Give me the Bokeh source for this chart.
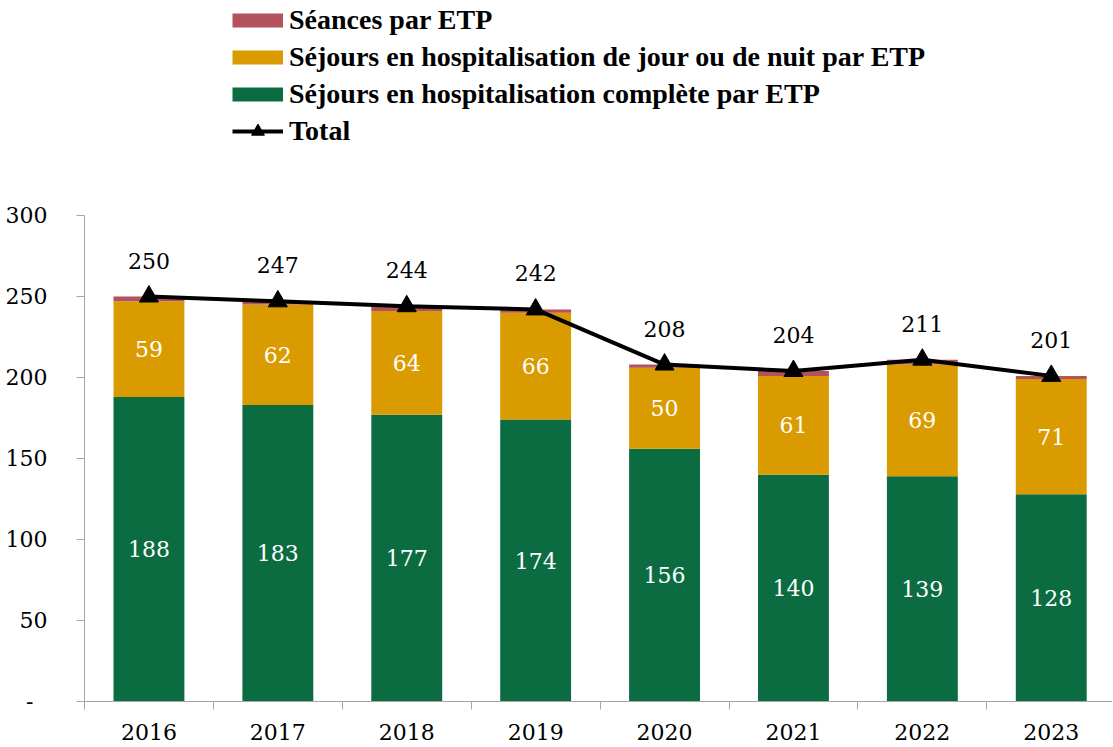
from bokeh.plotting import figure
from bokeh.models import ColumnDataSource, FixedTicker, Legend, LegendItem, Range1d
from bokeh.core.properties import value
from bokeh.embed import file_html
from bokeh.resources import INLINE

years = ["2016", "2017", "2018", "2019", "2020", "2021", "2022", "2023"]
complete = [188, 183, 177, 174, 156, 140, 139, 128]
jour = [59, 62, 64, 66, 50, 61, 69, 71]
seances = [3, 2, 3, 2, 2, 3, 3, 2]
totals = [250, 247, 244, 242, 208, 204, 211, 201]

label_complete = "Séjours en hospitalisation complète par ETP"
label_jour = "Séjours en hospitalisation de jour ou de nuit par ETP"
label_seances = "Séances par ETP"
label_total = "Total"

GREEN = "#0B6C42"
GOLD = "#D99B00"
RED = "#B3525C"
AXIS = "#A6A6A6"
NUM_FONT = "DejaVu Serif"
LEG_FONT = "Liberation Serif"

W, H = 1112, 746
LEFT = 84
FRAME_H = 701
BOTTOM = H - FRAME_H
PX_PER_UNIT = (FRAME_H - 215) / 300.0
CAT_PX = 128.9

xs = [i + 0.5 for i in range(len(years))]
src = ColumnDataSource(dict(
    x=xs,
    complete=complete,
    jour=jour,
    seances=seances,
    totals=totals,
    y_c=[c / 2 for c in complete],
    y_j=[c + j / 2 for c, j in zip(complete, jour)],
    t_c=[str(v) for v in complete],
    t_j=[str(v) for v in jour],
    t_t=[str(v) for v in totals],
))

p = figure(
    width=W, height=H,
    min_border_left=LEFT, min_border_right=0, min_border_top=0, min_border_bottom=BOTTOM,
    x_range=Range1d(0, (W - LEFT) / CAT_PX), y_range=Range1d(0, FRAME_H / PX_PER_UNIT),
    output_backend="svg", toolbar_location=None,
)
p.outline_line_color = None
p.xgrid.grid_line_color = None
p.ygrid.grid_line_color = None
p.background_fill_color = "white"

p.vbar_stack(["complete", "jour", "seances"], x="x", width=0.55,
             color=[GREEN, GOLD, RED], line_color=None, source=src)

p.text(x="x", y="y_c", text="t_c", source=src, text_color="white",
       text_font=value(NUM_FONT), text_font_size="22px",
       text_align="center", text_baseline="middle")
p.text(x="x", y="y_j", text="t_j", source=src, text_color="white",
       text_font=value(NUM_FONT), text_font_size="22px",
       text_align="center", text_baseline="middle")

p.line(x="x", y="totals", source=src, line_color="black", line_width=4)
p.scatter(x="x", y="totals", source=src, marker="triangle", size=19,
          fill_color="black", line_color="black")
p.text(x="x", y="totals", text="t_t", source=src, text_color="black",
       y_offset=-36, text_font=value(NUM_FONT), text_font_size="22px",
       text_align="center", text_baseline="middle")

# legend proxies (no visible data)
nan = [float("nan")]
r_s = p.line(x=nan, y=nan, line_color=RED, line_width=14, line_cap="butt")
r_j = p.line(x=nan, y=nan, line_color=GOLD, line_width=14, line_cap="butt")
r_c = p.line(x=nan, y=nan, line_color=GREEN, line_width=14, line_cap="butt")
r_tl = p.line(x=nan, y=nan, line_color="black", line_width=4)
r_tm = p.scatter(x=nan, y=nan, marker="triangle", size=17, fill_color="black", line_color="black")

legend = Legend(items=[
    LegendItem(label=label_seances, renderers=[r_s]),
    LegendItem(label=label_jour, renderers=[r_j]),
    LegendItem(label=label_complete, renderers=[r_c]),
    LegendItem(label=label_total, renderers=[r_tl, r_tm]),
], location=(148, FRAME_H - 147))
legend.border_line_color = None
legend.background_fill_alpha = 0
legend.padding = 0
legend.margin = 0
legend.spacing = 5
legend.glyph_width = 51
legend.glyph_height = 32
legend.label_height = 32
legend.label_standoff = 6
legend.label_text_font = LEG_FONT
legend.label_text_font_style = "bold"
legend.label_text_font_size = "28px"
legend.label_text_color = "black"
p.add_layout(legend)

# x axis
xa = p.xaxis[0]
xa.ticker = FixedTicker(ticks=xs, minor_ticks=list(range(len(years) + 1)))
xa.major_label_overrides = {x: y for x, y in zip(xs, years)}
xa.major_tick_out = 0
xa.major_tick_in = 0
xa.minor_tick_out = 8
xa.minor_tick_in = 0
xa.minor_tick_line_color = AXIS
xa.axis_line_color = AXIS
xa.major_label_standoff = 14
xa.major_label_text_font = NUM_FONT
xa.major_label_text_font_size = "22px"
xa.major_label_text_color = "black"

# y axis
ya = p.yaxis[0]
yticks = [0, 50, 100, 150, 200, 250, 300]
ya.ticker = FixedTicker(ticks=yticks)
ya.major_label_overrides = {0: "-\u2007"}
ya.bounds = (0, 300)
ya.major_tick_out = 8
ya.major_tick_in = 0
ya.major_tick_line_color = AXIS
ya.minor_tick_line_color = None
ya.axis_line_color = AXIS
ya.major_label_standoff = 29
ya.major_label_text_font = NUM_FONT
ya.major_label_text_font_size = "22px"
ya.major_label_text_color = "black"

open("out.html", "w").write(file_html(p, INLINE))
